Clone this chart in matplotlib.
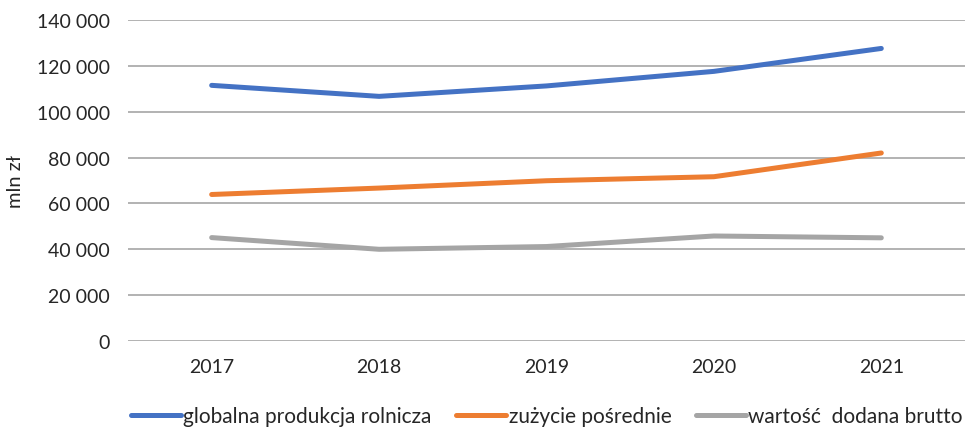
import matplotlib.pyplot as plt
from matplotlib.ticker import FuncFormatter

years = ["2017", "2018", "2019", "2020", "2021"]
produkcja = [111500, 106700, 111250, 117600, 127600]
zuzycie = [63900, 66700, 69900, 71650, 82000]
wartosc = [45100, 40000, 41200, 45800, 45000]

series_names = ["globalna produkcja rolnicza", "zużycie pośrednie", "wartość  dodana brutto"]
colors = ["#4472C4", "#ED7D31", "#A5A5A5"]
y_ticks = list(range(0, 140001, 20000))

plt.rcParams["font.family"] = ["Lato", "DejaVu Sans"]

fig = plt.figure(figsize=(9.68, 4.35), dpi=100)
ax = fig.add_axes([0.1322, 0.2138, 0.8647, 0.7379])

x = range(len(years))
for vals, name, c in zip([produkcja, zuzycie, wartosc], series_names, colors):
    ax.plot(x, vals, color=c, linewidth=3.6, solid_capstyle="round", label=name, zorder=3)

ax.set_xlim(-0.5, len(years) - 0.5)
ax.set_ylim(0, 140000)
ax.set_yticks(y_ticks)
ax.yaxis.set_major_formatter(FuncFormatter(lambda v, p: f"{int(v):,}".replace(",", " ")))
ax.set_xticks(list(x))
ax.set_xticklabels(years)

ax.grid(axis="y", color="#A6A6A6", linewidth=1.2, zorder=0)
for s in ax.spines.values():
    s.set_visible(False)
ax.tick_params(axis="y", length=0, pad=13, labelsize=14, labelcolor="#262626")
ax.tick_params(axis="x", length=0, pad=12, labelsize=14, labelcolor="#262626")
ax.set_ylabel("mln zł", fontsize=14.5, color="#262626", labelpad=9)

fig.legend(loc="lower center", bbox_to_anchor=(0.565, -0.025), ncol=3, frameon=False,
           fontsize=15, handlelength=2.4, handletextpad=0.1, columnspacing=1.2,
           labelcolor="#262626")

fig.savefig("out.png", dpi=100)
